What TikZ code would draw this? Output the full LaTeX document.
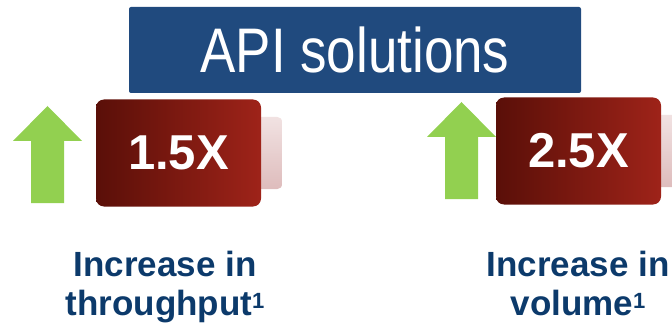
\documentclass[tikz,border=0pt]{standalone}
\usepackage{fontspec}
\setmainfont{Liberation Sans}
\usetikzlibrary{positioning, backgrounds}
\usepackage{xcolor}
\definecolor{apiblue}{RGB}{32,74,126}
\definecolor{labelblue}{RGB}{12,58,107}
\definecolor{upgreen}{RGB}{146,208,80}
\definecolor{reddark}{RGB}{90,15,8}
\definecolor{redlight}{RGB}{158,35,25}
\definecolor{ghosttop}{RGB}{241,226,226}
\definecolor{ghostbot}{RGB}{222,188,188}

\newcommand{\note}[1]{\raisebox{7pt}{\fontsize{22}{22}\selectfont #1}}

\tikzset{
  factor/.style={rounded corners=8pt, left color=reddark, right color=redlight,
    text=white, minimum width=165pt, minimum height=107pt, inner sep=0pt,
    font=\bfseries\fontsize{49}{49}\selectfont},
  ghost/.style={rounded corners=5pt, top color=ghosttop, bottom color=ghostbot,
    minimum width=27pt, minimum height=72pt, inner sep=0pt},
  caption/.style={text=labelblue, align=center, inner sep=0pt, anchor=north,
    font=\bfseries\fontsize{35}{39}\selectfont}
}

\begin{document}
\begin{tikzpicture}[x=1pt, y=-1pt]
  \useasboundingbox (0,0) rectangle (672,326);
  \clip (0,0) rectangle (672,326);

  % title bar
  \node[fill=apiblue, rounded corners=2pt, minimum width=452pt, minimum height=86pt,
    text=white, font=\fontsize{63}{63}\selectfont] (title) at (355,50)
    {\scalebox{0.84}[1]{API solutions}};

  % green up arrows
  \foreach \ax/\ay in {13/106, 427/102}
    \fill[upgreen, shift={(\ax,\ay)}] (34.5,0) -- (69,35) -- (51,35) -- (51,97)
      -- (18,97) -- (18,35) -- (0,35) -- cycle;

  % factor boxes, pale tab behind each
  \node[factor] (factA) at (178.5,153) {1.5X};
  \node[factor] (factB) at (578.5,151) {2.5X};
  \begin{scope}[on background layer]
    \node[ghost, right=-6pt of factA] (ghostA) {};
    \node[ghost, right=-6pt of factB] (ghostB) {};
  \end{scope}

  % captions
  \node[caption] (capA) at (165,251) {Increase in\\throughput\note{1}};
  \node[caption] (capB) at (578,251) {Increase in\\volume\note{1}};
\end{tikzpicture}
\end{document}
